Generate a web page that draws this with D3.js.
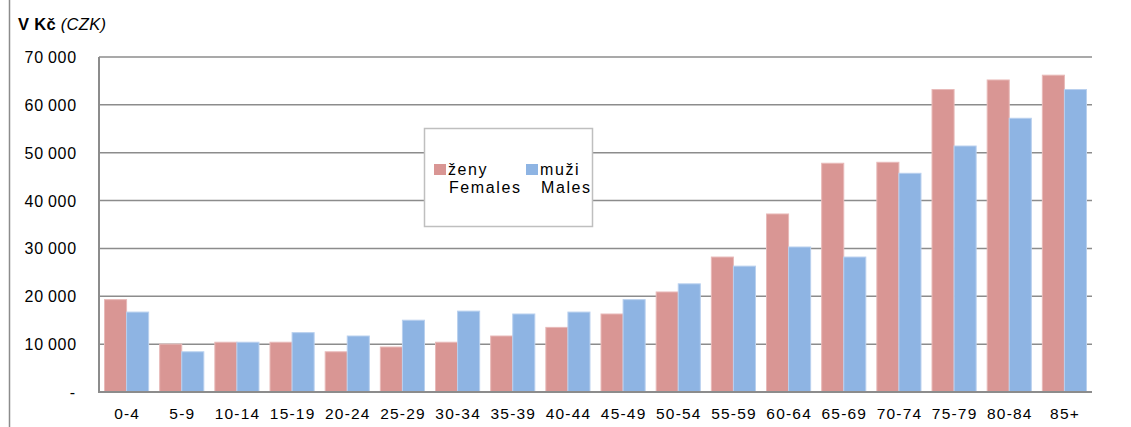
<!DOCTYPE html>
<html>
<head>
<meta charset="utf-8">
<script src="https://cdn.jsdelivr.net/npm/d3@7"></script>
<style>
  body { margin: 0; background: #fff; }
  svg { display: block; font-family: "Liberation Sans", Arial, sans-serif; }
</style>
</head>
<body>
<svg id="chart" width="1131" height="427"></svg>
<script>
// age groups
const categories = ['0-4', '5-9', '10-14', '15-19', '20-24', '25-29', '30-34', '35-39', '40-44',
  '45-49', '50-54', '55-59', '60-64', '65-69', '70-74', '75-79', '80-84', '85+'];
// females (ženy)
const females = [19300, 10000, 10400, 10400, 8400, 9400, 10400, 11700, 13500,
  16300, 20900, 28200, 37200, 47800, 48000, 63200, 65200, 66200];
// males (muži)
const males = [16700, 8400, 10400, 12400, 11700, 15000, 16900, 16300, 16700,
  19300, 22600, 26300, 30300, 28200, 45700, 51400, 57200, 63200];
const yTicks = [0, 10000, 20000, 30000, 40000, 50000, 60000, 70000];

const series = [
  { key: 'f', values: females, color: '#d99694', stroke: '#e8b9b8', name1: 'ženy', name2: 'Females' },
  { key: 'm', values: males, color: '#8eb4e3', stroke: '#b9d0ee', name1: 'muži', name2: 'Males' }
];

const svg = d3.select('#chart');
const plot = { left: 99, right: 1092, top: 57, bottom: 392 };

// outer frame remnant on the left
svg.append('line')
  .attr('x1', 9.5).attr('x2', 9.5)
  .attr('y1', 0).attr('y2', 427)
  .attr('stroke', '#8c8c8c').attr('stroke-width', 1.5);

const x = d3.scaleBand()
  .domain(categories)
  .range([plot.left, plot.right])
  .paddingInner(0.2)
  .paddingOuter(0.1);

const x1 = d3.scaleBand()
  .domain(series.map(s => s.key))
  .range([0, x.bandwidth()]);

const y = d3.scaleLinear()
  .domain([0, 70000])
  .range([plot.bottom, plot.top]);

// gridlines
svg.append('g')
  .selectAll('line')
  .data(yTicks.filter(d => d > 0))
  .enter()
  .append('line')
  .attr('x1', plot.left).attr('x2', plot.right)
  .attr('y1', d => y(d)).attr('y2', d => y(d))
  .attr('stroke', '#8c8c8c')
  .attr('stroke-width', 1.5);

// bars
series.forEach(s => {
  svg.append('g')
    .selectAll('rect')
    .data(s.values)
    .enter()
    .append('rect')
    .attr('x', (d, i) => x(categories[i]) + x1(s.key))
    .attr('y', d => y(d))
    .attr('width', x1.bandwidth())
    .attr('height', d => plot.bottom - y(d))
    .attr('fill', s.color)
    .attr('stroke', s.stroke)
    .attr('stroke-width', 1);
});

// axes lines
svg.append('line')
  .attr('x1', plot.left).attr('x2', plot.left)
  .attr('y1', plot.top).attr('y2', plot.bottom)
  .attr('stroke', '#8c8c8c').attr('stroke-width', 2);
svg.append('line')
  .attr('x1', plot.left - 1).attr('x2', plot.right)
  .attr('y1', plot.bottom).attr('y2', plot.bottom)
  .attr('stroke', '#8c8c8c').attr('stroke-width', 2);

// y labels
const fmt = d => d === 0 ? '-' : d3.format(',')(d).replace(',', '\u2009');
svg.append('g')
  .selectAll('text')
  .data(yTicks)
  .enter()
  .append('text')
  .attr('x', d => d === 0 ? 76 : 77)
  .attr('y', d => y(d) + 6)
  .attr('text-anchor', 'end')
  .attr('font-size', 16)
  .attr('letter-spacing', 0.8)
  .attr('fill', '#000')
  .text(fmt);

// x labels
svg.append('g')
  .selectAll('text')
  .data(categories)
  .enter()
  .append('text')
  .attr('x', d => x(d) + x.bandwidth() / 2 + 0.6)
  .attr('y', 419)
  .attr('text-anchor', 'middle')
  .attr('font-size', 15.5)
  .attr('letter-spacing', 1.2)
  .attr('fill', '#000')
  .text(d => d);

// unit title
const title = svg.append('text')
  .attr('x', 18).attr('y', 30)
  .attr('font-size', 16.5)
  .attr('letter-spacing', 0.3);
title.append('tspan').attr('font-weight', 'bold').text('V Kč ');
title.append('tspan').attr('font-style', 'italic').text('(CZK)');

// legend
const legend = svg.append('g');
legend.append('rect')
  .attr('x', 424.5).attr('y', 128.5)
  .attr('width', 168).attr('height', 98)
  .attr('fill', '#fff')
  .attr('stroke', '#bfbfbf').attr('stroke-width', 1.5);
const lx = [434, 526];
series.forEach((s, i) => {
  legend.append('rect')
    .attr('x', lx[i]).attr('y', 164)
    .attr('width', 12).attr('height', 11)
    .attr('fill', s.color);
  legend.append('text')
    .attr('x', lx[i] + 14).attr('y', 175)
    .attr('font-size', 16).attr('letter-spacing', 1.6)
    .text(s.name1);
  legend.append('text')
    .attr('x', lx[i] + 15).attr('y', 193)
    .attr('font-size', 16).attr('letter-spacing', 1.6)
    .text(s.name2);
});
</script>
</body>
</html>
